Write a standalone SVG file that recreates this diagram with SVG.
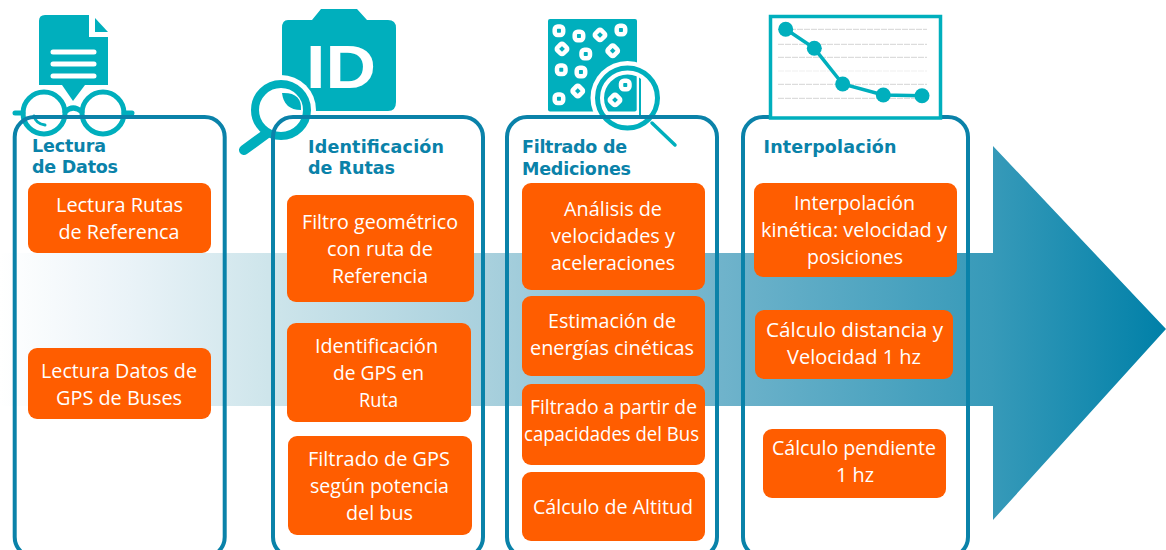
<svg xmlns="http://www.w3.org/2000/svg" width="1166" height="550" viewBox="0 0 1166 550">
<defs>
<linearGradient id="g" gradientUnits="userSpaceOnUse" x1="0" y1="0" x2="1166" y2="0">
<stop offset="0" stop-color="#ffffff"/><stop offset="0.11" stop-color="#eaf3f8"/><stop offset="0.23" stop-color="#cee5eb"/><stop offset="0.42" stop-color="#a8d0dd"/><stop offset="0.62" stop-color="#6fb3cb"/><stop offset="0.85" stop-color="#379ab9"/><stop offset="1" stop-color="#0080a8"/>
</linearGradient>
<clipPath id="lens"><circle cx="627.500" cy="98" r="23.500"/></clipPath>
</defs>
<style>
.col{fill:none;stroke:#0a82a9;stroke-width:4}
.box{fill:#ff5d00}
.t{font-family:"Open Sans","Noto Sans",sans-serif;font-size:19.5px;fill:#fff;text-anchor:middle}
.h{font-family:"DejaVu Sans",sans-serif;font-weight:bold;font-size:17.5px;fill:#0a82a9}
.ic{fill:#00afbd}
.gl{fill:none;stroke:#00afbd;stroke-width:5}
.gr{stroke:#d4d4d4;stroke-width:1;stroke-dasharray:6 1;fill:none}
.w{fill:none;stroke:#fff;stroke-width:4.5}
</style>
<rect width="1166" height="550" fill="#fff"/>
<g id="arrow"><path d="M0 253H993V146L1166 329L993 520V406H0Z" fill="url(#g)"/></g>
<g id="icon-doc"><path d="M45 15H89V37H108V85H39V21Q39 15 45 15Z" class="ic"/><path d="M95 18L108 32H95Z" class="ic"/>
<g stroke="#fff" stroke-width="5" stroke-linecap="round"><path d="M53 52H94M53 64H94M53 76H94"/></g>
<circle cx="44" cy="113" r="26" fill="#fff"/><circle cx="103" cy="113" r="26" fill="#fff"/><path d="M62 85H85L73 101Z" class="ic"/>
<circle cx="44" cy="113" r="21" class="gl"/><circle cx="103" cy="113" r="21" class="gl"/><path d="M65 112Q73 104 82 112M15 113H23M124 113H132" class="gl" stroke-linecap="round"/><path d="M34 116Q36 124 45 125" class="gl" style="stroke-width:3" stroke-linecap="round"/></g>
<g id="icon-id"><path d="M288 20H312L321 9H357L367 20H388Q396 20 396 28V102Q396 111 388 111H290Q282 111 282 102V28Q282 20 288 20Z" class="ic"/>
<text x="341" y="88" font-family="'Liberation Sans',sans-serif" font-weight="bold" font-size="62" fill="#fff" text-anchor="middle" textLength="70" lengthAdjust="spacingAndGlyphs">ID</text>
<circle cx="281" cy="110" r="35" fill="#fff"/><circle cx="281" cy="110" r="26" class="gl" style="stroke-width:8"/>
<path d="M282 93Q302 92 301 110Q284 110 282 93Z" class="ic"/>
<path d="M266 134L244 150" stroke="#00afbd" stroke-width="10" stroke-linecap="round"/></g>
<g id="icon-filter"><rect x="548" y="19" width="89" height="92.500" rx="2" class="ic"/>
<g class="w">
<rect x="554.700" y="26.500" width="8.500" height="8.500" rx="3"/><rect x="574.700" y="31.700" width="8.500" height="8.500" rx="3"/><rect x="595.700" y="30.700" width="8.500" height="8.500" rx="2" transform="rotate(45 600 35)"/><rect x="616.700" y="25.700" width="8.500" height="8.500" rx="3"/><rect x="557.700" y="44.700" width="8.500" height="8.500" rx="2" transform="rotate(45 562 49)"/><rect x="581.500" y="49.700" width="8.500" height="8.500" rx="3"/><rect x="608.500" y="46.500" width="8.500" height="8.500" rx="2" transform="rotate(45 612.700 50.700)"/><rect x="557" y="65.500" width="8.500" height="8.500" rx="3"/><rect x="576.700" y="67.700" width="8.500" height="8.500" rx="3"/><rect x="573.500" y="86.700" width="8.500" height="8.500" rx="2" transform="rotate(45 577.700 91)"/><rect x="554.700" y="94.500" width="8.500" height="8.500" rx="3"/></g>
<circle cx="627.500" cy="98" r="37" fill="#fff"/>
<g clip-path="url(#lens)"><rect x="590" y="60" width="46.700" height="51.500" rx="2" class="ic"/><path d="M640 60V140" stroke="#00afbd" stroke-width="2"/>
<g class="w"><rect x="621" y="80.700" width="8.500" height="8.500" rx="3"/><rect x="610.700" y="95.700" width="8.500" height="8.500" rx="2" transform="rotate(45 615 100)"/></g></g>
<circle cx="627.500" cy="98" r="30" fill="none" stroke="#00afbd" stroke-width="5"/>
<path d="M652 123L675 145" stroke="#00afbd" stroke-width="3.500" stroke-linecap="round"/></g>
<g id="col1"><rect x="14.700" y="117" width="210" height="440" rx="20" class="col"/>
<text class="h" x="32" y="152" textLength="74">Lectura</text><text class="h" x="32" y="173" textLength="86">de Datos</text></g>
<g id="col2"><rect x="273" y="117" width="210" height="440" rx="20" class="col"/>
<text class="h" x="308" y="153" textLength="136">Identificación</text><text class="h" x="308" y="174" textLength="87">de Rutas</text></g>
<g id="col3"><rect x="507" y="117" width="210" height="440" rx="20" class="col"/>
<text class="h" x="522" y="153" textLength="105">Filtrado de</text><text class="h" x="522" y="175" textLength="109">Mediciones</text></g>
<g id="col4"><rect x="743" y="117" width="225" height="440" rx="20" class="col"/>
<text class="h" x="763.500" y="153" textLength="133">Interpolación</text></g>
<g id="icon-chart"><rect x="770.500" y="16.500" width="170" height="101.500" fill="#fff" stroke="#00afbd" stroke-width="3.500"/>
<g class="gr"><path d="M790 29.300H927M778 44.300H927M778 57.300H927M778 84.300H927M778 98.300H927"/><path d="M778 71H927" style="stroke:#efefef"/></g>
<path d="M786 29.300L814.300 48.300L842.700 84L883.300 95L922 95.700" fill="none" stroke="#00afbd" stroke-width="3.500"/>
<g class="ic"><circle cx="785.700" cy="29.300" r="7.500"/><circle cx="814.300" cy="48.300" r="7.500"/><circle cx="842.700" cy="84" r="7.500"/><circle cx="883.300" cy="95" r="7.500"/><circle cx="922" cy="95.700" r="7.500"/></g></g>
<g id="n1"><rect class="box" x="28" y="183" width="183" height="70" rx="9"/><text class="t" x="119.500" y="212" textLength="127" lengthAdjust="spacingAndGlyphs">Lectura Rutas</text><text class="t" x="119" y="239" textLength="121" lengthAdjust="spacingAndGlyphs">de Referenca</text></g>
<g id="n2"><rect class="box" x="28" y="348" width="183" height="71" rx="9"/><text class="t" x="119" y="378" textLength="156" lengthAdjust="spacingAndGlyphs">Lectura Datos de</text><text class="t" x="119" y="405" textLength="126" lengthAdjust="spacingAndGlyphs">GPS de Buses</text></g>
<g id="n3"><rect class="box" x="287" y="195" width="187" height="107" rx="9"/><text class="t" x="380" y="229" textLength="156" lengthAdjust="spacingAndGlyphs">Filtro geométrico</text><text class="t" x="380" y="256" textLength="106" lengthAdjust="spacingAndGlyphs">con ruta de</text><text class="t" x="380" y="283" textLength="96" lengthAdjust="spacingAndGlyphs">Referencia</text></g>
<g id="n4"><rect class="box" x="287" y="323" width="184" height="99" rx="9"/><text class="t" x="376.500" y="353" textLength="123" lengthAdjust="spacingAndGlyphs">Identificación</text><text class="t" x="378.500" y="380" textLength="91" lengthAdjust="spacingAndGlyphs">de GPS en</text><text class="t" x="378.500" y="407" textLength="39" lengthAdjust="spacingAndGlyphs">Ruta</text></g>
<g id="n5"><rect class="box" x="288" y="436" width="184" height="99" rx="9"/><text class="t" x="379" y="466" textLength="142" lengthAdjust="spacingAndGlyphs">Filtrado de GPS</text><text class="t" x="379.500" y="493" textLength="139" lengthAdjust="spacingAndGlyphs">según potencia</text><text class="t" x="379.500" y="520" textLength="67" lengthAdjust="spacingAndGlyphs">del bus</text></g>
<g id="n6"><rect class="box" x="522" y="183" width="183" height="107" rx="9"/><text class="t" x="613" y="216" textLength="98" lengthAdjust="spacingAndGlyphs">Análisis de</text><text class="t" x="613" y="243" textLength="124" lengthAdjust="spacingAndGlyphs">velocidades y</text><text class="t" x="613" y="270" textLength="124" lengthAdjust="spacingAndGlyphs">aceleraciones</text></g>
<g id="n7"><rect class="box" x="522" y="296" width="183" height="80" rx="9"/><text class="t" x="612" y="328" textLength="128" lengthAdjust="spacingAndGlyphs">Estimación de</text><text class="t" x="612" y="355" textLength="164" lengthAdjust="spacingAndGlyphs">energías cinéticas</text></g>
<g id="n8"><rect class="box" x="522" y="384" width="183" height="81" rx="9"/><text class="t" x="613.500" y="414" textLength="167" lengthAdjust="spacingAndGlyphs">Filtrado a partir de</text><text class="t" x="611.500" y="441" textLength="175" lengthAdjust="spacingAndGlyphs">capacidades del Bus</text></g>
<g id="n9"><rect class="box" x="522" y="472" width="183" height="69" rx="9"/><text class="t" x="613" y="514" textLength="160" lengthAdjust="spacingAndGlyphs">Cálculo de Altitud</text></g>
<g id="n10"><rect class="box" x="754" y="183" width="203" height="94" rx="9"/><text class="t" x="854.500" y="210" textLength="121" lengthAdjust="spacingAndGlyphs">Interpolación</text><text class="t" x="854" y="237" textLength="186" lengthAdjust="spacingAndGlyphs">kinética: velocidad y</text><text class="t" x="855" y="264" textLength="96" lengthAdjust="spacingAndGlyphs">posiciones</text></g>
<g id="n11"><rect class="box" x="755" y="310" width="198" height="69" rx="9"/><text class="t" x="854.500" y="337" textLength="177" lengthAdjust="spacingAndGlyphs">Cálculo distancia y</text><text class="t" x="854" y="364" textLength="134" lengthAdjust="spacingAndGlyphs">Velocidad 1 hz</text></g>
<g id="n12"><rect class="box" x="763" y="429" width="183" height="69" rx="9"/><text class="t" x="854" y="455" textLength="164" lengthAdjust="spacingAndGlyphs">Cálculo pendiente</text><text class="t" x="855" y="482" textLength="38" lengthAdjust="spacingAndGlyphs">1 hz</text></g>
</svg>
